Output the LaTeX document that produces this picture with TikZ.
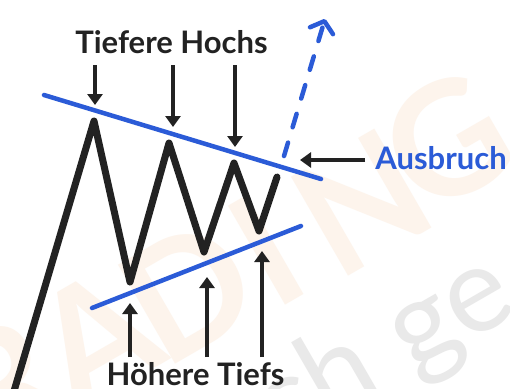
\documentclass[tikz,border=0pt]{standalone}
\usepackage{fontspec}
\setmainfont{Lato}
\usetikzlibrary{arrows.meta}
\definecolor{ink}{HTML}{222222}
\definecolor{blu}{HTML}{2B5BD7}
\definecolor{peach}{HTML}{FDF4EC}
\definecolor{wgray}{HTML}{E9E9E9}
\begin{document}
\begin{tikzpicture}[x=1bp,y=-1bp,
  lbl/.style={font=\fontsize{31bp}{37bp}\selectfont\bfseries, inner sep=0pt, anchor=base},
  ptr/.style={ink, line width=3.5bp, -{Triangle[width=15bp,length=11bp]}},
  trend/.style={blu, line width=4.5bp, line cap=round},
  zig/.style={ink, line width=7bp, line join=round, line cap=round},
  wmA/.style={peach, font=\fontsize{158bp}{158bp}\selectfont\bfseries, rotate=30, inner sep=0pt},
  wmB/.style={wgray, font=\fontsize{120bp}{120bp}\selectfont, rotate=30, inner sep=0pt, anchor=base west},
]
\path[use as bounding box] (0,0) rectangle (510,388);
\clip (0,0) rectangle (510,388);
\fill[white] (0,0) rectangle (510,388);
% watermarks
\node[wmA] (wR) at (3,384) {R};
\node[wmA] (wA) at (95,337) {A};
\node[wmA] (wD) at (188,291) {D};
\node[wmA] (wI) at (266,250) {I};
\node[wmA] (wN) at (362,203) {N};
\node[wmA] (wG) at (447,141) {G};
\node[wmB] (wtxt) at (279,452) {ch ge};
% zigzag
\coordinate (z0) at (9,408);
\coordinate (p1) at (94,121);
\coordinate (t1) at (130,282);
\coordinate (p2) at (169,143);
\coordinate (t2) at (204,252);
\coordinate (p3) at (234,163);
\coordinate (t3) at (259,231);
\coordinate (ze) at (277,177);
\draw[zig] (z0) -- (p1) -- (t1) -- (p2) -- (t2) -- (p3) -- (t3) -- (ze);
% trend lines
\coordinate (u1) at (44,95);
\coordinate (u2) at (321,179);
\coordinate (l1) at (92,308);
\coordinate (l2) at (301,226);
\draw[trend] (u1) -- (u2);
\draw[trend] (l1) -- (l2);
% breakout dashed arrow
\coordinate (d1) at (284,156);
\coordinate (d2) at (325,19);
\draw[blu, line width=4.5bp, line cap=round, dash pattern=on 14bp off 16bp,
  -{Straight Barb[width=24bp,length=10bp,line cap=round,line join=round]}] (d1) -- (d2);
% labels
\node[lbl, ink] (hochs) at (171.5,53) {Tiefere Hochs};
\node[lbl, ink] (tiefs) at (195.5,385) {Höhere Tiefs};
\node[lbl, blu] (ausb) at (441,169) {Ausbruch};
% top arrows
\coordinate (a1s) at (95,65);  \coordinate (a1e) at (95,105);
\coordinate (a2s) at (173,65); \coordinate (a2e) at (173,127);
\coordinate (a3s) at (235,65); \coordinate (a3e) at (235,147);
\draw[ptr] (a1s) -- (a1e);
\draw[ptr] (a2s) -- (a2e);
\draw[ptr] (a3s) -- (a3e);
% bottom arrows
\coordinate (b1s) at (130,357); \coordinate (b1e) at (130,303);
\coordinate (b2s) at (207,357); \coordinate (b2e) at (207,277);
\coordinate (b3s) at (262,357); \coordinate (b3e) at (262,251);
\draw[ptr] (b1s) -- (b1e);
\draw[ptr] (b2s) -- (b2e);
\draw[ptr] (b3s) -- (b3e);
% breakout pointer
\coordinate (c1) at (365,160); \coordinate (c2) at (300,160);
\draw[ptr] (c1) -- (c2);
\end{tikzpicture}
\end{document}
